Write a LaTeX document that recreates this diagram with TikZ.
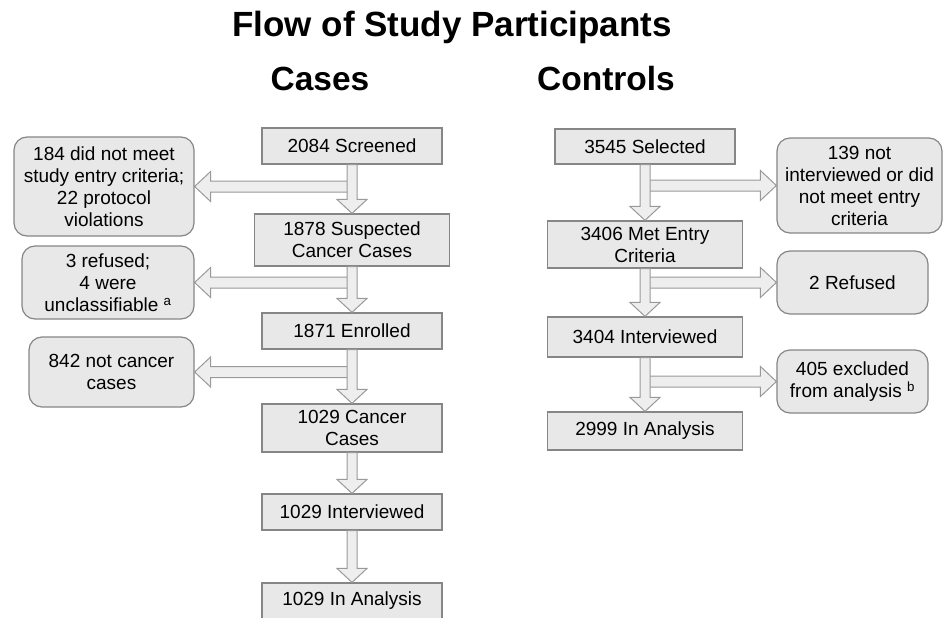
\documentclass[tikz,border=0pt]{standalone}
\usepackage{fontspec}
\setmainfont{Liberation Sans}
\usetikzlibrary{positioning,calc}
\definecolor{boxfill}{HTML}{E8E8E8}
\definecolor{boxline}{HTML}{868686}
\definecolor{arrfill}{HTML}{EEEEEE}
\definecolor{arrline}{HTML}{999999}
\newcommand{\boxfont}{\fontsize{19}{22}\selectfont}
\newcommand{\headfont}{\fontsize{33.5}{36}\selectfont\bfseries}
\newcommand{\titlefont}{\fontsize{35}{38}\selectfont\bfseries}
\tikzset{
  stagebox/.style={rectangle,draw=boxline,fill=boxfill,line width=1.2pt,minimum width=180pt,
    minimum height=36pt,align=center,font=\boxfont,inner sep=0pt},
  widebox/.style={stagebox,minimum width=195pt},
  exclbox/.style={rectangle,rounded corners=13pt,draw=boxline,fill=boxfill,line width=1.2pt,
    align=center,font=\boxfont,inner sep=0pt},
  blockarrow/.style={draw=arrline,fill=arrfill,line width=1pt,line join=miter},
  headnode/.style={font=\headfont,anchor=base,inner sep=0pt},
}
\newcommand{\vblock}[2]{%
  \coordinate (hb) at ($(#2)!14pt!(#1)$);
  \draw[blockarrow] ($(#1)+(-5,0)$) -- ($(hb)+(-5,0)$) -- ($(hb)+(-15,0)$) -- (#2)
    -- ($(hb)+(15,0)$) -- ($(hb)+(5,0)$) -- ($(#1)+(5,0)$) -- cycle;}
\newcommand{\hblock}[2]{%
  \coordinate (hb) at ($(#2)!16pt!(#1)$);
  \draw[blockarrow] ($(#1)+(0,5.5)$) -- ($(hb)+(0,5.5)$) -- ($(hb)+(0,15)$) -- (#2)
    -- ($(hb)+(0,-15)$) -- ($(hb)+(0,-5.5)$) -- ($(#1)+(0,-5.5)$) -- cycle;}

\begin{document}
\begin{tikzpicture}[x=1pt,y=1pt]
  \useasboundingbox (0,0) rectangle (948,-618);

  \node[headnode, font=\titlefont] (title) at (452,-37) {Flow of Study Participants};
  \node[headnode] (cases) at (320,-90) {Cases};
  \node[headnode] (controls) at (606,-90) {Controls};

  % cases
  \node[stagebox] (scr) at (352,-146) {2084 Screened};
  \node[widebox, minimum height=52pt] (sus) at (352,-240) {1878 Suspected\\Cancer Cases};
  \node[stagebox] (enr) at (352,-331) {1871 Enrolled};
  \node[stagebox, minimum height=48pt] (can) at (352,-428) {1029 Cancer\\Cases};
  \node[stagebox] (cint) at (352,-512) {1029 Interviewed};
  \node[stagebox] (cana) at (352,-601) {1029 In Analysis};

  \node[exclbox, minimum width=180pt, minimum height=99pt] (cx1) at (104,-186.5)
    {184 did not meet\\study entry criteria;\\22 protocol\\violations};
  \node[exclbox, minimum width=172pt, minimum height=73pt] (cx2) at (108,-282.5)
    {3 refused;\\4 were\\unclassifiable \textsuperscript{a}};
  \node[exclbox, minimum width=165pt, minimum height=70pt] (cx3) at (111.5,-372)
    {842 not cancer\\cases};

  % controls
  \node[stagebox, minimum height=35pt] (sel) at (645,-146.5) {3545 Selected};
  \node[widebox, minimum height=47pt] (met) at (645,-244.5) {3406 Met Entry\\Criteria};
  \node[widebox, minimum height=40pt] (rint) at (645,-337) {3404 Interviewed};
  \node[widebox, minimum height=38pt] (rana) at (645,-431) {2999 In Analysis};

  \node[exclbox, minimum width=165pt, minimum height=95pt] (rx1) at (859.5,-185.5)
    {139 not\\interviewed or did\\not meet entry\\criteria};
  \node[exclbox, minimum width=151pt, minimum height=63pt] (rx2) at (852.5,-282.5)
    {2 Refused};
  \node[exclbox, minimum width=151pt, minimum height=63pt] (rx3) at (852.5,-381.5)
    {405 excluded\\from analysis \textsuperscript{b}};

  \coordinate (cj1) at (scr.south |- cx1.east);
  \coordinate (cj2) at (sus.south |- cx2.east);
  \coordinate (cj3) at (enr.south |- cx3.east);
  \coordinate (rj1) at (sel.south |- rx1.west);
  \coordinate (rj2) at (met.south |- rx2.west);
  \coordinate (rj3) at (rint.south |- rx3.west);

  \hblock{cj1}{cx1.east}
  \hblock{cj2}{cx2.east}
  \hblock{cj3}{cx3.east}
  \hblock{rj1}{rx1.west}
  \hblock{rj2}{rx2.west}
  \hblock{rj3}{rx3.west}

  \vblock{scr.south}{sus.north}
  \vblock{sus.south}{enr.north}
  \vblock{enr.south}{can.north}
  \vblock{can.south}{cint.north}
  \vblock{cint.south}{cana.north}
  \vblock{sel.south}{met.north}
  \vblock{met.south}{rint.north}
  \vblock{rint.south}{rana.north}
\end{tikzpicture}
\end{document}
